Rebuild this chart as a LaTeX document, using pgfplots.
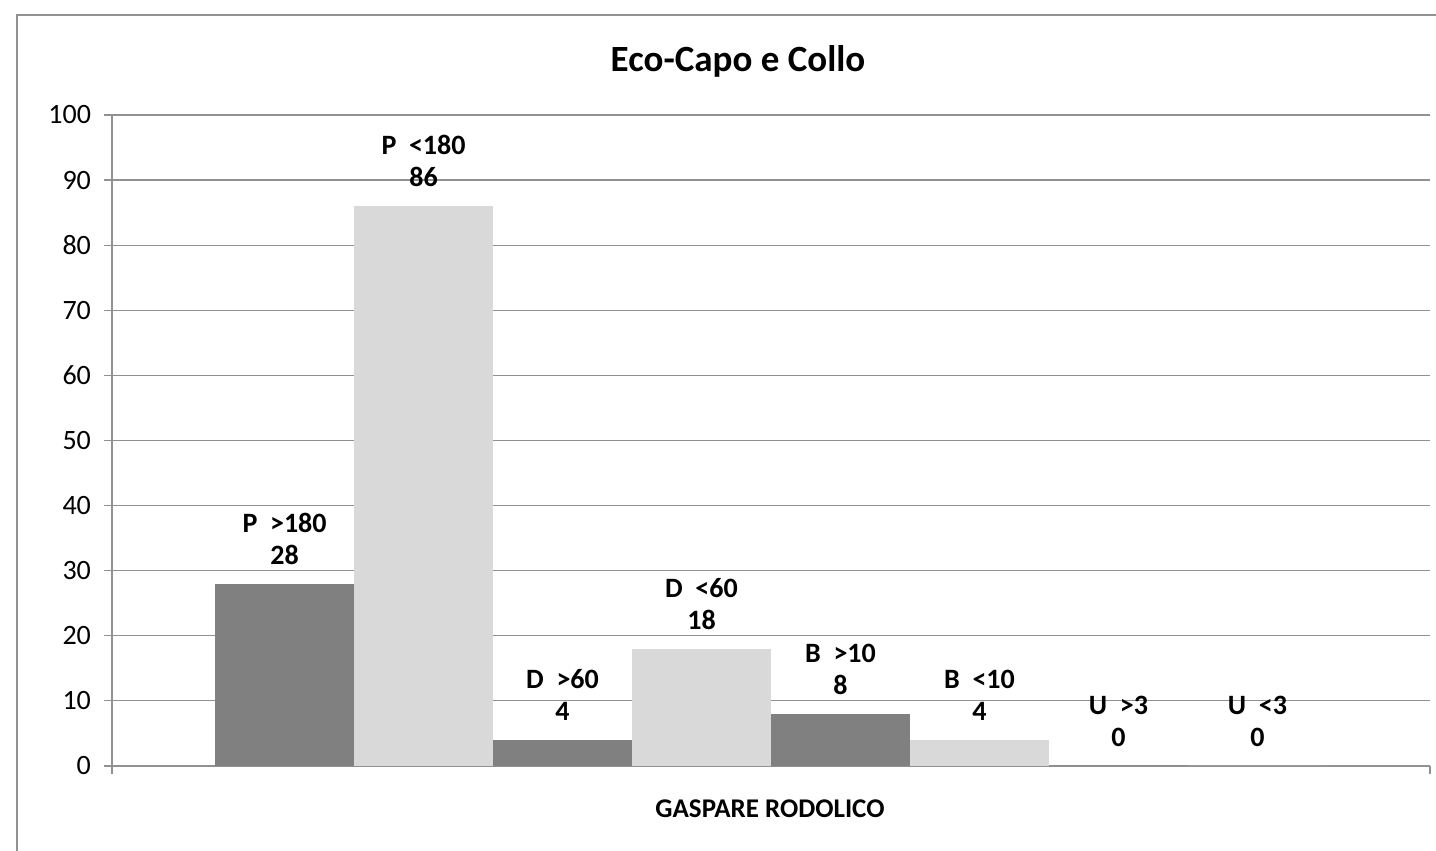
\documentclass[border=0pt]{standalone}
\usepackage{fontspec}
\setmainfont{Carlito}
\usepackage{pgfplots}
\pgfplotsset{compat=1.18}
\definecolor{darkbar}{RGB}{128,128,128}
\definecolor{lightbar}{RGB}{217,217,217}
\definecolor{gridc}{RGB}{145,145,145}
\begin{document}
\begin{tikzpicture}
\path[use as bounding box] (0,0) rectangle (718pt,425.5pt);
\draw[gridc, line width=1pt] (8.25pt,-5pt) -- (8.25pt,418pt) -- (730pt,418pt);
\node[font=\fontsize{18.5}{22}\selectfont\bfseries] at (369pt,395pt) {Eco-Capo e Collo};
\node[font=\fontsize{13.5}{16}\selectfont\bfseries] at (385pt,21pt) {GASPARE RODOLICO};
\begin{axis}[
  at={(56pt,42.5pt)}, anchor=south west,
  scale only axis, width=659pt, height=325.5pt,
  xmin=-1, xmax=1, ymin=0, ymax=100,
  ybar=0pt, bar width=0.2109,
  axis x line*=bottom, axis y line*=left,
  axis line style={gridc, line width=0.6pt},
  ytick={0,10,...,100},
  xtick={-1,1}, xticklabels={,},
  tick style={gridc, line width=0.6pt},
  tick align=outside, major tick length=4pt,
  ymajorgrids, grid style={gridc, line width=0.6pt},
  /pgf/number format/assume math mode=true,
  yticklabel style={font=\fontsize{14}{16}\selectfont, xshift=-3pt},
  every node near coord/.append style={anchor=south, align=center, font=\fontsize{14}{16}\selectfont\bfseries, yshift=6pt},
  clip=false,
]
\addplot[fill=darkbar, draw=none, nodes near coords={P\ \ >180\\28}] coordinates {(0,28)};
\addplot[fill=lightbar, draw=none, nodes near coords={P\ \ <180\\86}] coordinates {(0,86)};
\addplot[fill=darkbar, draw=none, nodes near coords={D\ \ >60\\4}] coordinates {(0,4)};
\addplot[fill=lightbar, draw=none, nodes near coords={D\ \ <60\\18}] coordinates {(0,18)};
\addplot[fill=darkbar, draw=none, nodes near coords={B\ \ >10\\8}] coordinates {(0,8)};
\addplot[fill=lightbar, draw=none, nodes near coords={B\ \ <10\\4}] coordinates {(0,4)};
\addplot[fill=darkbar, draw=none, nodes near coords={U\ \ >3\\0}] coordinates {(0,0)};
\addplot[fill=lightbar, draw=none, nodes near coords={U\ \ <3\\0}] coordinates {(0,0)};
\end{axis}
\end{tikzpicture}
\end{document}
